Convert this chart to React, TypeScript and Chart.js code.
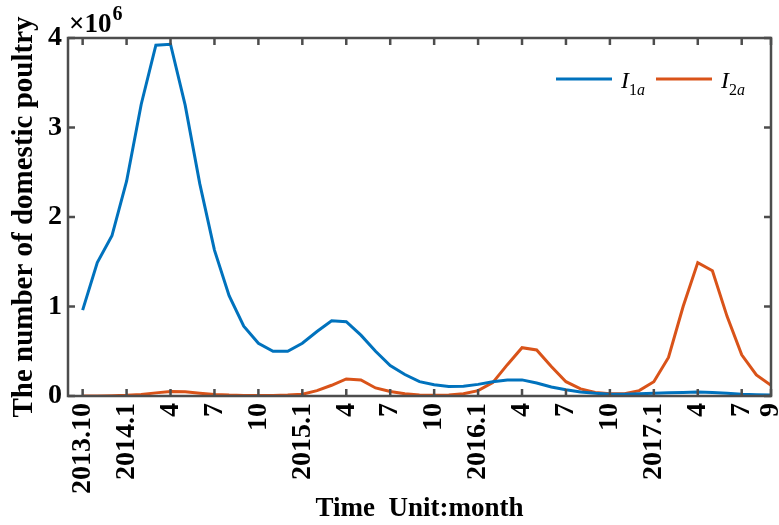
import React, { useEffect, useRef } from "react";
import { Chart, registerables } from "chart.js";

Chart.register(...registerables);

// month index 0 = 2013.10 ... 47 = 2017.9 (values in units of 10^6)
const tickValues = [0, 3, 6, 9, 12, 15, 18, 21, 24, 27, 30, 33, 36, 39, 42, 45, 47];
const tickLabels = ["2013.10", "2014.1", "4", "7", "10", "2015.1", "4", "7", "10", "2016.1", "4", "7", "10", "2017.1", "4", "7", "9"];

const I1a = [
  0.96, 1.49, 1.79, 2.4, 3.26, 3.92, 3.93, 3.25, 2.37, 1.63, 1.12, 0.78,
  0.59, 0.5, 0.5, 0.59, 0.72, 0.84, 0.83, 0.68, 0.5, 0.34, 0.24, 0.16,
  0.125, 0.105, 0.11, 0.13, 0.16, 0.18, 0.18, 0.145, 0.1, 0.07, 0.045, 0.03,
  0.02, 0.02, 0.025, 0.03, 0.035, 0.04, 0.045, 0.04, 0.03, 0.02, 0.015, 0.01,
];
const I2a = [
  0.0, 0.0, 0.003, 0.008, 0.018, 0.035, 0.05, 0.048, 0.032, 0.018, 0.01, 0.006,
  0.005, 0.006, 0.01, 0.02, 0.06, 0.12, 0.19, 0.18, 0.09, 0.05, 0.025, 0.012,
  0.008, 0.01, 0.025, 0.06, 0.15, 0.35, 0.54, 0.515, 0.33, 0.16, 0.08, 0.04,
  0.025, 0.025, 0.06, 0.16, 0.43, 1.0, 1.49, 1.4, 0.89, 0.46, 0.235, 0.12,
];

const BLUE = "#0072BD";
const ORANGE = "#D95319";
const AXIS = "#4d4d4d";
const FONT = "'Liberation Serif', 'Times New Roman', serif";

const framePlugin = {
  id: "frame",
  afterDraw(chart: any) {
    const { ctx, chartArea } = chart;
    const { left, right, top, bottom } = chartArea;
    const xs = chart.scales.x;
    const ys = chart.scales.y;
    ctx.save();
    ctx.strokeStyle = AXIS;
    ctx.lineWidth = 2.5;
    ctx.strokeRect(left, top, right - left, bottom - top);
    const tl = 7;
    ctx.beginPath();
    tickValues.forEach((v) => {
      const px = xs.getPixelForValue(v);
      ctx.moveTo(px, bottom);
      ctx.lineTo(px, bottom - tl);
      ctx.moveTo(px, top);
      ctx.lineTo(px, top + tl);
    });
    [0, 1, 2, 3, 4].forEach((v) => {
      const py = ys.getPixelForValue(v);
      ctx.moveTo(left, py);
      ctx.lineTo(left + tl, py);
      ctx.moveTo(right, py);
      ctx.lineTo(right - tl, py);
    });
    ctx.stroke();

    // axis titles
    ctx.fillStyle = "#000";
    ctx.font = `bold 27px ${FONT}`;
    ctx.textAlign = "center";
    ctx.textBaseline = "middle";
    ctx.fillText("Time  Unit:month", (left + right) / 2, 509);
    ctx.save();
    ctx.translate(25, (top + bottom) / 2);
    ctx.rotate(-Math.PI / 2);
    ctx.font = `bold 29px ${FONT}`;
    ctx.fillText("The number of domestic poultry", 0, 0);
    ctx.restore();

    // exponent
    ctx.textAlign = "left";
    ctx.textBaseline = "alphabetic";
    ctx.font = `bold 27px ${FONT}`;
    ctx.fillText("\u00d710", 69, 32);
    const w = ctx.measureText("\u00d710").width;
    ctx.font = `bold 20px ${FONT}`;
    ctx.fillText("6", 69 + w + 1, 20);

    // legend
    const items = [
      { color: BLUE, x: 556, sub1: "1", sub2: "a" },
      { color: ORANGE, x: 656, sub1: "2", sub2: "a" },
    ];
    const ly = 79;
    items.forEach((it) => {
      ctx.strokeStyle = it.color;
      ctx.lineWidth = 3;
      ctx.beginPath();
      ctx.moveTo(it.x, ly);
      ctx.lineTo(it.x + 56, ly);
      ctx.stroke();
      let tx = it.x + 65;
      ctx.fillStyle = "#000";
      ctx.font = `italic 24px ${FONT}`;
      ctx.fillText("I", tx, 88);
      tx += ctx.measureText("I").width;
      ctx.font = `16px ${FONT}`;
      ctx.fillText(it.sub1, tx, 95);
      tx += ctx.measureText(it.sub1).width;
      ctx.font = `italic 16px ${FONT}`;
      ctx.fillText(it.sub2, tx, 95);
    });
    ctx.restore();
  },
};

export default function App() {
  const ref = useRef<HTMLCanvasElement>(null);
  useEffect(() => {
    if (!ref.current) return;
    const labels = I1a.map((_, i) => i);
    const chart = new Chart(ref.current, {
      type: "line",
      data: {
        datasets: [
          {
            label: "I1a",
            data: I1a.map((v, i) => ({ x: labels[i], y: v })),
            borderColor: BLUE,
            borderWidth: 3,
            pointRadius: 0,
            tension: 0,
            fill: false,
          },
          {
            label: "I2a",
            data: I2a.map((v, i) => ({ x: labels[i], y: v })),
            borderColor: ORANGE,
            borderWidth: 3,
            pointRadius: 0,
            tension: 0,
            fill: false,
          },
        ],
      },
      options: {
        animation: false,
        responsive: false,
        layout: { padding: { top: 38, right: 8, left: 0, bottom: 0 } },
        plugins: { legend: { display: false }, tooltip: { enabled: false } },
        scales: {
          x: {
            type: "linear",
            min: -1,
            max: 47,
            grid: { display: false, drawTicks: false },
            border: { display: false },
            afterBuildTicks: (scale: any) => {
              scale.ticks = tickValues.map((v) => ({ value: v }));
            },
            afterFit: (scale: any) => {
              scale.height = 129;
              scale.paddingLeft = 0;
              scale.paddingRight = 0;
            },
            ticks: {
              autoSkip: false,
              minRotation: 90,
              maxRotation: 90,
              padding: 7,
              color: "#000",
              font: { family: FONT, weight: "bold", size: 28 },
              callback: (v: any) => {
                const idx = tickValues.indexOf(Number(v));
                return idx >= 0 ? tickLabels[idx] : "";
              },
            },
          },
          y: {
            type: "linear",
            min: 0,
            max: 4,
            grid: { display: false, drawTicks: false },
            border: { display: false },
            afterFit: (scale: any) => {
              scale.width = 68;
              scale.paddingTop = 0;
              scale.paddingBottom = 0;
            },
            ticks: {
              stepSize: 1,
              padding: 6,
              color: "#000",
              font: { family: FONT, weight: "bold", size: 28 },
            },
          },
        },
      },
      plugins: [framePlugin],
    });
    return () => chart.destroy();
  }, []);
  return (
    <div style={{ position: "fixed", left: 0, top: 0, width: 779, height: 525, background: "#fff" }}>
      <canvas ref={ref} width={779} height={525} style={{ width: 779, height: 525 }} />
    </div>
  );
}
